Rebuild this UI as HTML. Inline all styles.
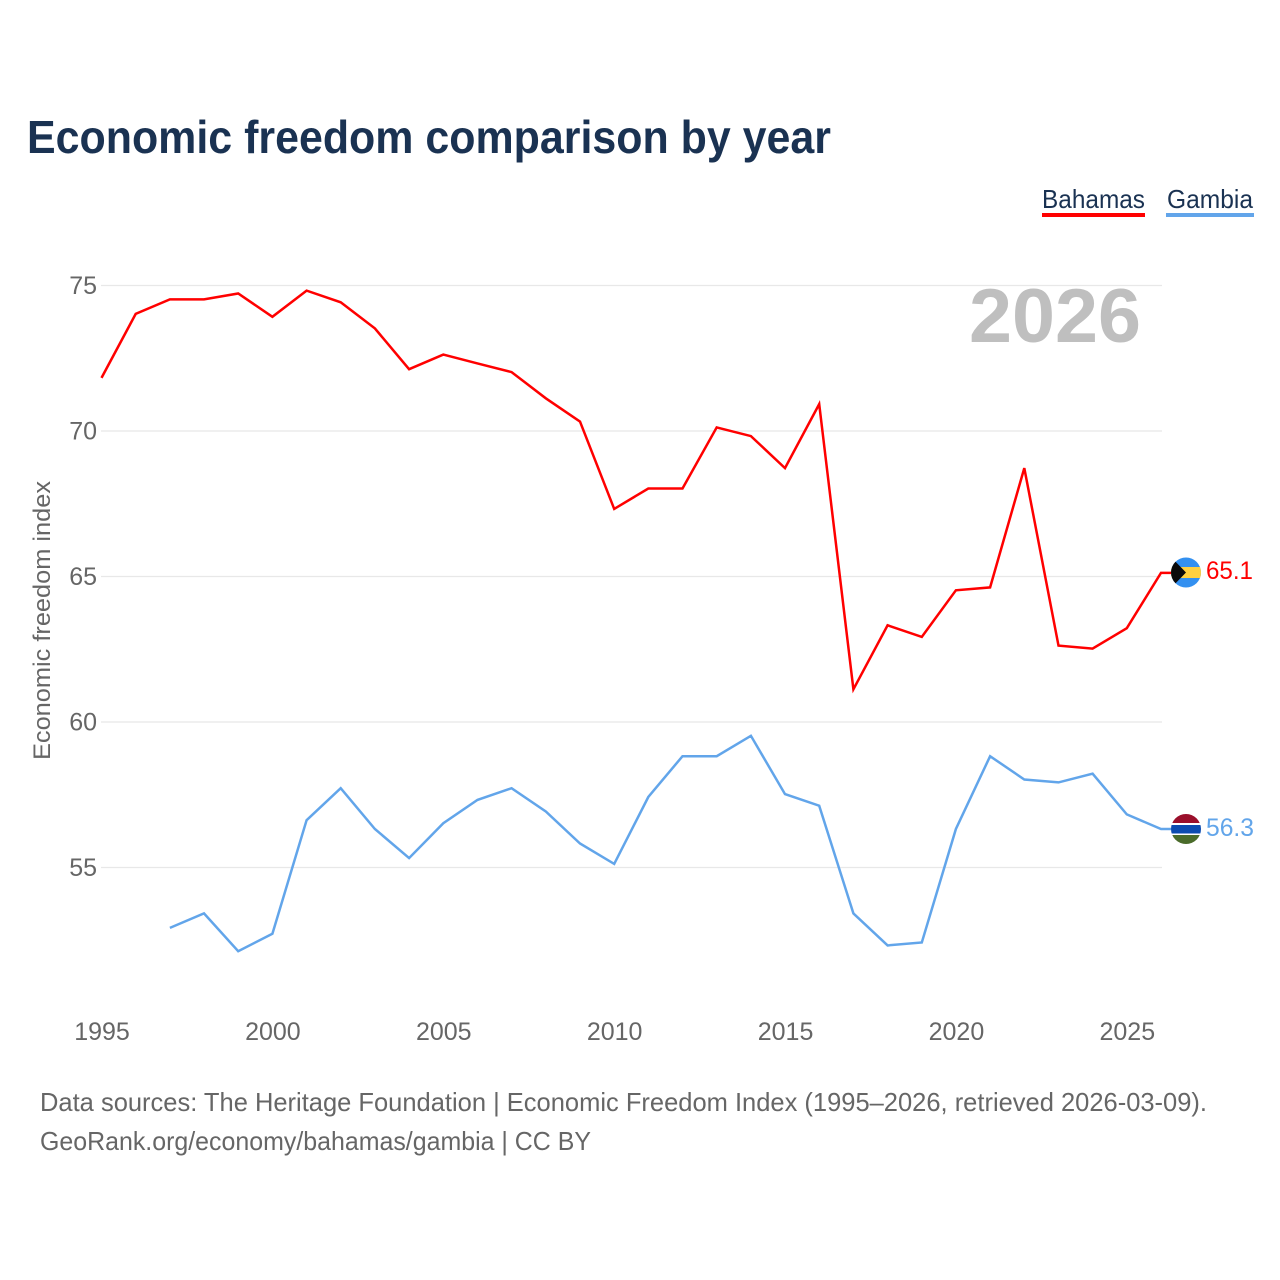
<!DOCTYPE html>
<html lang="en">
<head>
<meta charset="utf-8">
<title>Economic freedom comparison by year</title>
<style>
html,body{margin:0;padding:0;background:#fff;width:1280px;height:1280px;overflow:hidden}
svg{display:block}
text{font-family:"Liberation Sans",sans-serif}
</style>
</head>
<body>
<svg id="chart" xmlns="http://www.w3.org/2000/svg" width="1280" height="1280" viewBox="0 0 1280 1280">
  <rect x="0" y="0" width="1280" height="1280" fill="#fff"/>
  <text x="27" y="153" font-size="46" font-weight="700" fill="#1a3252" textLength="804" lengthAdjust="spacingAndGlyphs">Economic freedom comparison by year</text>

  <g>
    <text x="1042" y="208" font-size="26" fill="#1a3252" textLength="103" lengthAdjust="spacingAndGlyphs">Bahamas</text>
    <rect x="1042" y="213" width="103" height="4" fill="#ff0000"/>
  </g>
  <g>
    <text x="1167" y="208" font-size="26" fill="#1a3252" textLength="86" lengthAdjust="spacingAndGlyphs">Gambia</text>
    <rect x="1166" y="213" width="88" height="4" fill="#62a5ea"/>
  </g>

  <g id="grid"></g>
  <g id="yticks"></g>
  <g id="xticks"></g>

  <text transform="translate(50,760) rotate(-90)" x="0" y="0" font-size="24" fill="#666666" textLength="279" lengthAdjust="spacingAndGlyphs">Economic freedom index</text>

  <text x="969" y="342" font-size="76" font-weight="700" fill="#bfbfbf" textLength="172" lengthAdjust="spacingAndGlyphs">2026</text>

  <g id="series" transform="translate(0,-0.7)"></g>

  <g>
    <clipPath id="clip-bs"><circle cx="1186" cy="572.5" r="15"/></clipPath>
    <g clip-path="url(#clip-bs)">
      <rect x="1171" y="557" width="30" height="31" fill="#3390f0"/>
      <rect x="1171" y="567" width="30" height="11" fill="#ffd040"/>
      <polygon points="1171,557 1186,572.5 1171,588" fill="#0a0a0a"/>
    </g>
  </g>
  <g>
    <clipPath id="clip-gm"><circle cx="1186" cy="829" r="15"/></clipPath>
    <g clip-path="url(#clip-gm)">
      <rect x="1171" y="813" width="30" height="32" fill="#ffffff"/>
      <rect x="1171" y="813" width="30" height="10" fill="#9a0f2b"/>
      <rect x="1171" y="825" width="30" height="8.500" fill="#0c4bb0"/>
      <rect x="1171" y="835" width="30" height="10" fill="#4a6b2a"/>
    </g>
  </g>

  <text x="1206" y="579" font-size="25" fill="#ff0000" textLength="47" lengthAdjust="spacingAndGlyphs">65.1</text>
  <text x="1206" y="836" font-size="25" fill="#62a5ea" textLength="48" lengthAdjust="spacingAndGlyphs">56.3</text>

  <text x="40" y="1111" font-size="26" fill="#666666" textLength="1167" lengthAdjust="spacingAndGlyphs">Data sources: The Heritage Foundation | Economic Freedom Index (1995–2026, retrieved 2026-03-09).</text>
  <text x="40" y="1150" font-size="26" fill="#666666" textLength="551" lengthAdjust="spacingAndGlyphs">GeoRank.org/economy/bahamas/gambia | CC BY</text>
</svg>
<script>
const years = [1995,1996,1997,1998,1999,2000,2001,2002,2003,2004,2005,2006,2007,2008,2009,2010,2011,2012,2013,2014,2015,2016,2017,2018,2019,2020,2021,2022,2023,2024,2025,2026];
const bahamasValues = [71.8,74.0,74.5,74.5,74.7,73.9,74.8,74.4,73.5,72.1,72.6,72.3,72.0,71.1,70.3,67.3,68.0,68.0,70.1,69.8,68.7,70.9,61.1,63.3,62.9,64.5,64.6,68.7,62.6,62.5,63.2,65.1];
const gambiaValues = [null,null,52.9,53.4,52.1,52.7,56.6,57.7,56.3,55.3,56.5,57.3,57.7,56.9,55.8,55.1,57.4,58.8,58.8,59.5,57.5,57.1,53.4,52.3,52.4,56.3,58.8,58.0,57.9,58.2,56.8,56.3];
const yTickValues = [75,70,65,60,55];
const xTickValues = [1995,2000,2005,2010,2015,2020,2025];

const NS = 'http://www.w3.org/2000/svg';
function xScale(year){ return 101.5 + (year - 1995) * (1161 - 101.5) / 31; }
function yScale(v){ return 285.5 + (75 - v) * 29.1; }

const grid = document.getElementById('grid');
const yticks = document.getElementById('yticks');
const xticks = document.getElementById('xticks');
const series = document.getElementById('series');

yTickValues.forEach(function(v){
  const line = document.createElementNS(NS,'line');
  
  
  line.setAttribute('x1', 101);
  line.setAttribute('x2', 1162);
  line.setAttribute('y1', yScale(v));
  line.setAttribute('y2', yScale(v));
  line.setAttribute('stroke', '#e8e8e8');
  line.setAttribute('stroke-width', '1.300');
  grid.appendChild(line);
  const t = document.createElementNS(NS,'text');
  
  
  t.setAttribute('x', 97);
  t.setAttribute('y', yScale(v) + 8.500);
  t.setAttribute('text-anchor', 'end');
  t.setAttribute('font-size', '25');
  t.setAttribute('fill', '#666666');
  t.textContent = v;
  yticks.appendChild(t);
});

xTickValues.forEach(function(y){
  const t = document.createElementNS(NS,'text');
  
  
  t.setAttribute('x', xScale(y) + 0.5);
  t.setAttribute('y', 1040);
  t.setAttribute('text-anchor', 'middle');
  t.setAttribute('font-size', '25');
  t.setAttribute('fill', '#666666');
  t.textContent = y;
  xticks.appendChild(t);
});

function drawSeries(values, color, name){
  let d = '';
  values.forEach(function(v, i){
    if (v === null) return;
    d += (d ? 'L' : 'M') + xScale(years[i]).toFixed(1) + ' ' + yScale(v).toFixed(1);
  });
  const p = document.createElementNS(NS,'path');
  
  
  p.setAttribute('d', d + 'h10');
  p.setAttribute('fill', 'none');
  p.setAttribute('stroke', color);
  p.setAttribute('stroke-width', '2.500');
  p.setAttribute('stroke-linejoin', 'miter');
  series.appendChild(p);
}
drawSeries(bahamasValues, '#ff0000', 'series-line-bahamas');
drawSeries(gambiaValues, '#62a5ea', 'series-line-gambia');
</script>
</body>
</html>
